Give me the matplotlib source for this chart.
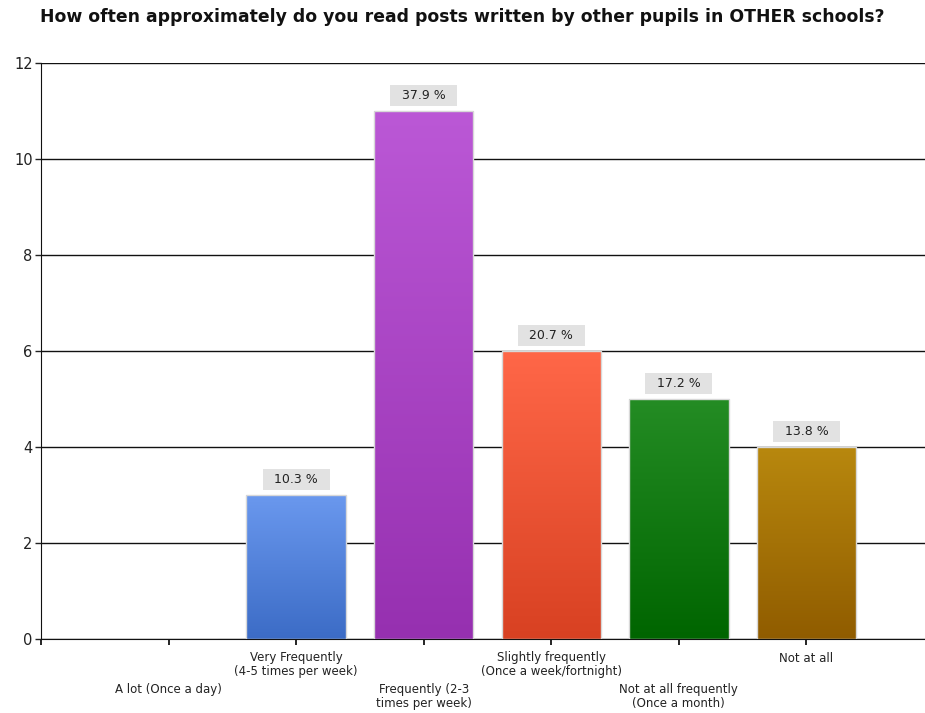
import numpy as np
import matplotlib.pyplot as plt
from matplotlib.colors import LinearSegmentedColormap

# survey answers and counts
categories = ["A lot (Once a day)",
              "Very Frequently\n(4-5 times per week)",
              "Frequently (2-3\ntimes per week)",
              "Slightly frequently\n(Once a week/fortnight)",
              "Not at all frequently\n(Once a month)",
              "Not at all"]
counts = [0, 3, 11, 6, 5, 4]
percents = [0.0, 10.3, 37.9, 20.7, 17.2, 13.8]
top_colors = ["#6a98ee", "#6a98ee", "#bb58d6", "#ff6748", "#248c24", "#b8880e"]
bottom_colors = ["#3c6cc6", "#3c6cc6", "#9630b0", "#d84122", "#006500", "#905c00"]

fig = plt.figure(figsize=(9.25, 7.13), dpi=100)
ax = fig.add_axes([41 / 925, 1 - 639 / 713, (934 - 41) / 925, (639 - 63) / 713])

x = np.arange(len(categories))
bars = ax.bar(x, counts, width=0.78, color="none", edgecolor="#d8d8d8", linewidth=1.0, zorder=3)

# vertical gradient fill for each bar
grad = np.linspace(0, 1, 256).reshape(-1, 1)
for i, b in enumerate(bars):
    if counts[i] == 0:
        continue
    cmap = LinearSegmentedColormap.from_list("g%d" % i, [bottom_colors[i], top_colors[i]])
    x0, w, h = b.get_x(), b.get_width(), b.get_height()
    im = ax.imshow(grad, cmap=cmap, aspect="auto", origin="lower",
                   extent=[x0, x0 + w, 0, h], zorder=2)
    im.set_clip_path(b)

# value labels in grey boxes
for i, b in enumerate(bars):
    if counts[i] == 0:
        continue
    ax.annotate("  %.1f %%  " % percents[i], (b.get_x() + b.get_width() / 2, counts[i]),
                xytext=(0, 11), textcoords="offset points", ha="center", va="center",
                fontsize=9, color="#222222", zorder=4,
                bbox=dict(boxstyle="square,pad=0.3", fc="#e2e2e2", ec="none"))

ax.set_xlim(-1, 6)
ax.set_ylim(0, 12)
ax.set_yticks(range(0, 13, 2))
ax.grid(axis="y", color="#111111", linewidth=1.0, zorder=1)
ax.set_axisbelow(True)

# category labels staggered in two rows
ax.set_xticks(x)
ax.set_xticklabels([])
ax.set_xticks([-1], minor=True)
for i, c in enumerate(categories):
    off = -9 if i % 2 == 1 else -32
    ax.annotate(c, (i, 0), xycoords=("data", "axes fraction"), xytext=(0, off),
                textcoords="offset points", ha="center", va="top", fontsize=8.5,
                color="#222222", linespacing=1.1, annotation_clip=False)

ax.tick_params(axis="y", labelsize=10.5, colors="#222222", length=4, width=1, pad=2)
ax.tick_params(axis="x", which="both", length=4, width=1.2, pad=3)

for s in ["top", "right"]:
    ax.spines[s].set_visible(False)
ax.spines["left"].set_color("#111111")
ax.spines["bottom"].set_color("#111111")

fig.text(0.5, 1 - 17 / 713, "How often approximately do you read posts written by other pupils in OTHER schools?",
         ha="center", va="center", fontsize=12.4, fontweight="bold", color="#111111")

fig.savefig("out.png", dpi=100)
